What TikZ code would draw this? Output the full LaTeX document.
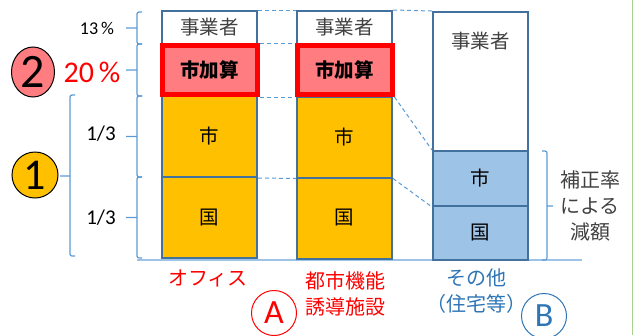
\documentclass[tikz,border=0pt]{standalone}
\usepackage{fontspec}
\setmainfont{Noto Sans CJK JP}
\newfontfamily\numfont{Carlito}
\usetikzlibrary{shapes.geometric,calc}

\definecolor{boxblue}{HTML}{41719C}
\definecolor{guideblue}{HTML}{5B9BD5}
\definecolor{cityorange}{HTML}{FFC000}
\definecolor{addpink}{HTML}{FF7C80}
\definecolor{restblue}{HTML}{9DC3E6}
\definecolor{labelblue}{HTML}{2E75B6}
\definecolor{pagegreen}{HTML}{A9D18E}
\definecolor{inkgray}{HTML}{404040}

\begin{document}
\begin{tikzpicture}[x=1pt,y=-1pt]
  \tikzstyle{share}=[draw=boxblue, line width=2pt, minimum width=95pt, inner sep=0pt, text=inkgray, font=\fontsize{19.5}{22}\selectfont]
  \tikzstyle{surcharge}=[share, draw=red, line width=5pt, fill=addpink, minimum height=49pt, text=black, font=\fontsize{19.5}{22}\selectfont\bfseries]
  \tikzstyle{guide}=[draw=guideblue, line width=1pt, dash pattern=on 4pt off 3pt]
  \tikzstyle{brace}=[draw=guideblue, line width=1.2pt, rounded corners=2pt]
  \tikzstyle{caption}=[inner sep=0pt, align=center, font=\fontsize{20}{26}\selectfont]
  \tikzstyle{circmark}=[circle, draw, line width=1pt, inner sep=0pt, minimum size=45pt, font=\numfont\fontsize{34}{34}\selectfont]

  \useasboundingbox (0,0) rectangle (637,335);
  \draw[pagegreen, line width=1pt] (632,0) -- (632,335);
  \draw[restblue, line width=1.2pt] (137,260) -- (582,260);

  % office
  \node [share,minimum height=33pt] (ofJ) at (209.5,27.5) {事業者};
  \node [share,fill=cityorange,minimum height=81pt,text=black] (ofS) at (209.5,136.5) {市};
  \node [share,fill=cityorange,minimum height=81pt,text=black] (ofN) at (209.5,217.5) {国};
  \node [surcharge] (ofK) at (209.5,70) {市加算};

  % urban function facility
  \node [share,minimum height=33pt] (ciJ) at (344.5,27.5) {事業者};
  \node [share,fill=cityorange,minimum height=81pt,text=black] (ciS) at (344.5,137) {市};
  \node [share,fill=cityorange,minimum height=81pt,text=black] (ciN) at (344.5,218) {国};
  \node [surcharge] (ciK) at (344.5,70) {市加算};

  % others
  \node [share,minimum height=139pt,label={[share,draw=none,anchor=north,yshift=-20pt]north:事業者}] (otJ) at (480.5,81.5) {};
  \node [share,fill=restblue,minimum height=55pt,text=black] (otS) at (480.5,178.5) {市};
  \node [share,fill=restblue,minimum height=54pt,text=black] (otN) at (480.5,233) {国};

  \draw[guide] (ofJ.north east) -- (ciJ.north west);
  \draw[guide] (ciJ.north east) -- (otJ.north west);
  \draw[guide] (ofK.north east) -- (ciK.north west);
  \draw[guide] (ofK.south east) -- (ciK.south west);
  \draw[guide] (ofS.south east) -- (ciS.south west);
  \draw[guide] (ciK.south east) -- (otS.north west);
  \draw[guide] (ciS.south east) -- (otS.south west);

  % brackets
  \foreach \ya/\yb in {12/44,44/96,96/177,177/258}
    \draw[brace] (142,\ya) -- (137,\ya) -- (137,\yb) -- (142,\yb)
      (137,{(\ya+\yb)/2}) -- (126,{(\ya+\yb)/2});
  \draw[brace] (75,95) -- (70,95) -- (70,256) -- (75,256) (70,176) -- (60,176);
  \draw[brace] (542,151) -- (547,151) -- (547,260) -- (542,260) (547,206) -- (553,206);

  \node [font=\numfont\fontsize{18}{18}\selectfont] (p13) at (97,28) {13\,\%};
  \node [text=red,font=\numfont\fontsize{30}{30}\selectfont] (p20) at (92,72) {20\,\%};
  \node [ellipse,draw,line width=1pt,fill=addpink,minimum width=43pt,minimum height=50pt,inner sep=0pt,font=\numfont\fontsize{48}{48}\selectfont] (two) at (33,72) {2};
  \node [circmark,fill=cityorange,minimum size=46pt,font=\numfont\fontsize{44}{44}\selectfont] (one) at (35,175) {1};
  \node [font=\numfont\fontsize{21}{21}\selectfont] (t1) at (101,134) {1/3};
  \node [font=\numfont\fontsize{21}{21}\selectfont] (t2) at (101,218) {1/3};

  % captions
  \node [caption,text=red] (ofL) at (208,278) {オフィス};
  \node [caption,text=red] (ciL) at (345,294) {都市機能\\誘導施設};
  \node [circmark,draw=red,text=red] (mA) at (274,313) {A};
  \node [caption,text=labelblue] (otL) at (476,291) {その他\\（住宅等）};
  \node [circmark,draw=labelblue,text=labelblue] (mB) at (544,316) {B};
  \node [caption,text=inkgray] (cut) at (590,206) {補正率\\による\\減額};
\end{tikzpicture}
\end{document}
